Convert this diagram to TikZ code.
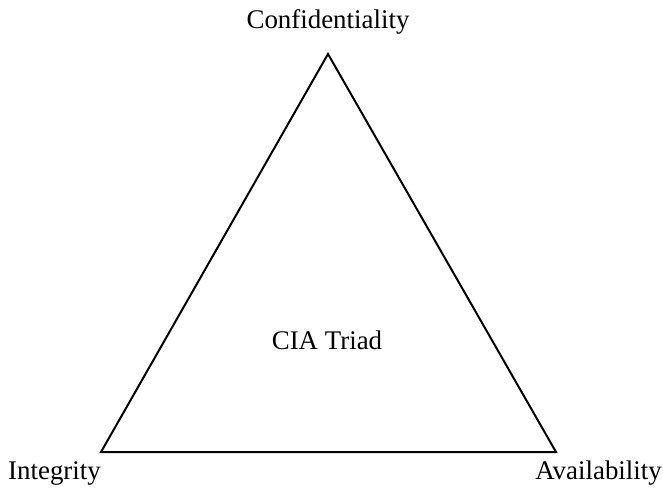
\documentclass[tikz,border=0pt]{standalone}
\usepackage{fontspec}
\setmainfont{Liberation Serif}
\begin{document}
\begin{tikzpicture}[x=1bp,y=-1bp,
  label text/.style={font=\fontsize{27}{32}\selectfont, inner sep=0pt},
  edge line/.style={line width=2bp, line join=miter}]
\useasboundingbox (0,0) rectangle (663,491);
% corners of the triangle
\coordinate (C) at (328,54);
\coordinate (I) at (101,452);
\coordinate (A) at (556,452);
\draw[edge line] (C) -- (A) -- (I) -- cycle;
% labels, placed by their baselines
\node[label text, anchor=base] (conf) at (328,29) {Confidentiality};
\node[label text, anchor=base west] (integ) at (8,479) {Integrity};
\node[label text, anchor=base east] (avail) at (662,479) {Availability};
\node[label text, anchor=base] (center) at (327,349) {CIA Triad};
\end{tikzpicture}
\end{document}
